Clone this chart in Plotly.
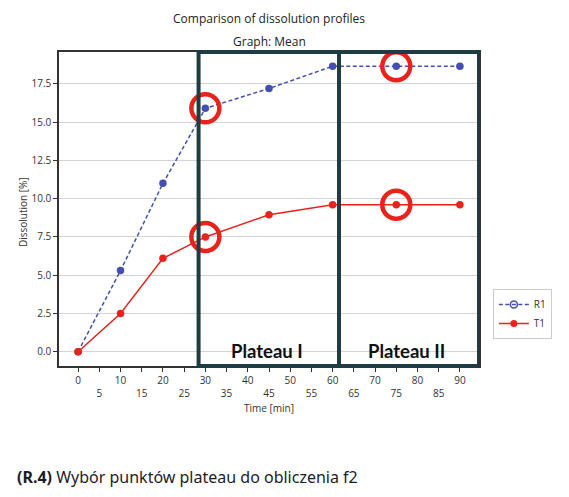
import plotly.graph_objects as go

# time points [min] and mean dissolution [%]
time_min = [0, 10, 20, 30, 45, 60, 75, 90]
r1_mean = [0.0, 5.3, 11.0, 15.9, 17.2, 18.65, 18.65, 18.65]
t1_mean = [0.0, 2.5, 6.1, 7.5, 8.95, 9.6, 9.6, 9.6]

# points picked as plateau for the f2 calculation
picked_times = [30, 75]

# x ticks every 5 min, odd ones on a second row
x_ticks = list(range(0, 95, 5))
x_labels = [str(t) if t % 10 == 0 else "<br>" + str(t) for t in x_ticks]
y_ticks = [0, 2.5, 5, 7.5, 10, 12.5, 15, 17.5]
y_labels = ["0.0", "2.5", "5.0", "7.5", "10.0", "12.5", "15.0", "17.5"]

# plateau regions (x limits)
plateau_names = ["Plateau I", "Plateau II"]
plateau_x0 = [28.4, 61.5]
plateau_x1 = [61.5, 94.5]

blue = "#4450b0"
red = "#e8231c"
box_col = "#1f3c44"
short_dash = "4px,2.5px"

fig = go.Figure()

fig.add_trace(go.Scatter(x=time_min, y=r1_mean, mode="lines+markers", showlegend=False,
                         line=dict(color=blue, width=1.5, dash=short_dash),
                         marker=dict(color=blue, size=7.5)))
fig.add_trace(go.Scatter(x=time_min, y=t1_mean, mode="lines+markers", showlegend=False,
                         line=dict(color=red, width=1.5),
                         marker=dict(color=red, size=7.5)))

# red rings round the picked points
ring_x, ring_y = [], []
for t in picked_times:
    i = time_min.index(t)
    ring_x += [t, t]
    ring_y += [r1_mean[i], t1_mean[i]]
fig.add_trace(go.Scatter(x=ring_x, y=ring_y, mode="markers", showlegend=False, hoverinfo="skip",
                         marker=dict(symbol="circle-open", size=28, color=red,
                                     line=dict(color=red, width=4.5))))

# legend entries (open marker for R1 like the original)
fig.add_trace(go.Scatter(x=[None], y=[None], mode="lines+markers", name="R1",
                         line=dict(color=blue, width=1.5, dash=short_dash),
                         marker=dict(symbol="circle-open", color=blue, size=7, line=dict(width=1.5))))
fig.add_trace(go.Scatter(x=[None], y=[None], mode="lines+markers", name="T1",
                         line=dict(color=red, width=1.5),
                         marker=dict(color=red, size=7)))

for name, x0, x1 in zip(plateau_names, plateau_x0, plateau_x1):
    fig.add_shape(type="rect", xref="x", yref="paper", x0=x0, x1=x1, y0=0, y1=1,
                  line=dict(color=box_col, width=4))
    fig.add_annotation(x=(x0 + x1) / 2 - 0.5, y=0.05, xref="x", yref="y", yanchor="middle",
                       text="<b>%s</b>" % name, showarrow=False,
                       font=dict(family="Lato", size=18.5, color="#111111"))

fig.add_annotation(x=0.5, y=1.108, xref="paper", yref="paper", xanchor="center", yanchor="middle",
                   text="Comparison of dissolution profiles",
                   showarrow=False, font=dict(size=12, color="#222222"))
fig.add_annotation(x=0.5, y=1.032, xref="paper", yref="paper", xanchor="center", yanchor="middle",
                   text="Graph: Mean",
                   showarrow=False, font=dict(size=12, color="#222222"))
fig.add_annotation(x=0.5, y=-0.134, xref="paper", yref="paper", xanchor="center", yanchor="middle",
                   text="Time [min]",
                   showarrow=False, font=dict(size=10, color="#333333"))
fig.add_annotation(x=-0.086, y=0.49, xref="paper", yref="paper", xanchor="center", yanchor="middle",
                   text="Dissolution [%]",
                   textangle=-90, showarrow=False, font=dict(size=10, color="#333333"))
fig.add_annotation(x=-0.105, y=-0.3535, xref="paper", yref="paper", xanchor="left", yanchor="middle",
                   text="<b>(R.4)</b> Wybór punktów plateau do obliczenia f2",
                   showarrow=False, font=dict(family="Noto Sans", size=16, color="#1c1c2a"))

fig.update_xaxes(range=[-4.5, 94.5], tickvals=x_ticks, ticktext=x_labels,
                 showgrid=False, zeroline=False, showline=True, linecolor="#333333", linewidth=1.5,
                 mirror=True, ticks="outside", ticklen=4, tickcolor="#333333",
                 tickfont=dict(size=10, color="#333333"))
fig.update_yaxes(range=[-0.93, 19.58], tickvals=y_ticks, ticktext=y_labels,
                 showgrid=True, gridcolor="#d4d4d4", gridwidth=1, zeroline=False,
                 showline=True, linecolor="#333333", linewidth=1.5, mirror=True,
                 ticks="outside", ticklen=4, tickcolor="#333333",
                 tickfont=dict(size=10, color="#333333"))

# page body has an 8px margin, so the figure is 8px smaller and the margins shifted
fig.update_layout(width=561, height=489, margin=dict(l=51, r=90, t=44, b=131),
                  paper_bgcolor="white", plot_bgcolor="white",
                  font=dict(family="Open Sans"),
                  legend=dict(x=1.033, y=0.245, xanchor="left", yanchor="top",
                              bordercolor="#cccccc", borderwidth=1, bgcolor="white",
                              font=dict(size=10, color="#333333"), tracegroupgap=0))

fig.write_html("out.html")
